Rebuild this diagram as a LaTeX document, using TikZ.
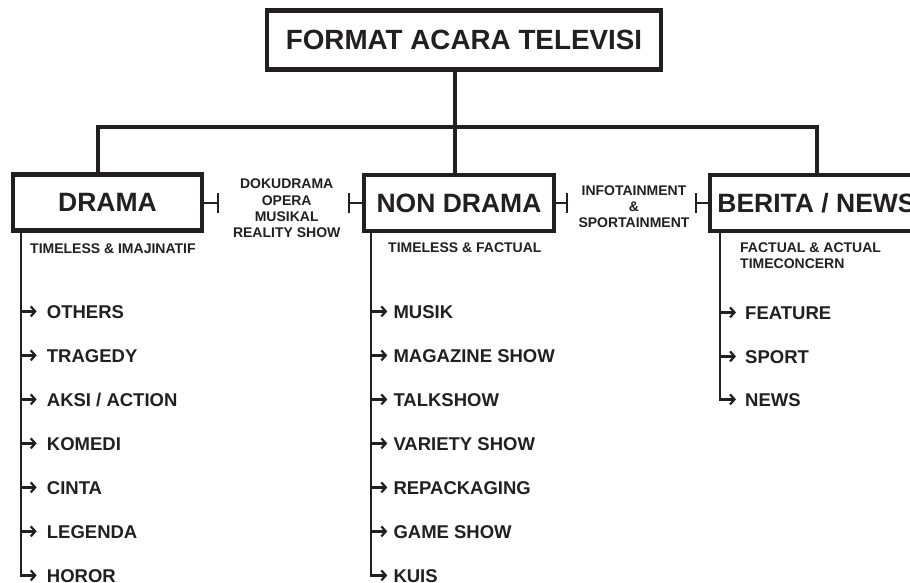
\documentclass[tikz,border=0pt]{standalone}
\usepackage{fontspec}
\setmainfont{Liberation Sans}
\usetikzlibrary{arrows.meta}
\definecolor{ink}{HTML}{231F20}
\begin{document}
\begin{tikzpicture}[x=1pt,y=-1pt,
 box/.style={draw=ink, text=ink, line width=4.3pt, inner sep=0pt, font=\fontsize{26.5}{30}\selectfont\bfseries},
 conn/.style={draw=ink, line width=4pt},
 tickline/.style={draw=ink, line width=2pt, -{Bar[width=20pt]}},
 listline/.style={draw=ink, line width=2.2pt},
 arr/.style={draw=ink, line width=2.2pt, -{Straight Barb[length=4.5pt, width=10pt]}},
 item/.style={anchor=base west, text=ink, inner ysep=0pt, text height=13.2pt, text depth=0pt, font=\fontsize{18.5}{20}\selectfont\bfseries},
 small/.style={inner sep=0pt, text=ink, font=\fontsize{14}{16}\selectfont\bfseries},
]
\useasboundingbox (0,0) rectangle (910,583);
\clip (0,0) rectangle (910,583);

% main boxes
\node[box, minimum width=393.5pt, minimum height=59pt, font=\fontsize{27.8}{30}\selectfont\bfseries] (title) at (464,40) {FORMAT ACARA TELEVISI};
\node[box, minimum width=189pt, minimum height=56pt] (drama) at (107.5,202.6) {DRAMA};
\node[box, minimum width=190pt, minimum height=55.5pt] (nondrama) at (459,203) {NON DRAMA};
\node[box, minimum width=213pt, minimum height=55.5pt] (berita) at (816.5,203) {BERITA / NEWS};

% tree connectors
\coordinate (hub) at (454.5,126.7);
\coordinate (dj) at (98.3,126.7);
\draw[conn] (title.south -| hub) -- (nondrama.north -| hub);
\draw[conn] (drama.north -| dj) -- (dj) -- (berita.north |- dj) -- (berita.north);

% ticks
\coordinate (t1) at (219,203);
\coordinate (t2) at (348,203);
\coordinate (t3) at (568,203);
\coordinate (t4) at (695,203);
\draw[tickline] (drama.east |- t1) -- (t1);
\draw[tickline] (nondrama.west |- t2) -- (t2);
\draw[tickline] (nondrama.east |- t3) -- (t3);
\draw[tickline] (berita.west |- t4) -- (t4);

% in-between labels
\node[small, anchor=base] (m1) at (286.7,188) {DOKUDRAMA};
\node[small, anchor=base] (m2) at (286.7,205.5) {OPERA};
\node[small, anchor=base] (m3) at (286.7,221.5) {MUSIKAL};
\node[small, anchor=base] (m4) at (286.7,237.5) {REALITY SHOW};
\node[small, anchor=base] (n1) at (634,195) {INFOTAINMENT};
\node[small, anchor=base] (n2) at (634,211) {\&};
\node[small, anchor=base] (n3) at (634,227) {SPORTAINMENT};

% subtitles
\node[small, anchor=base west] (s1) at (30,253) {TIMELESS \& IMAJINATIF};
\node[small, anchor=base west] (s2) at (388,252.5) {TIMELESS \& FACTUAL};
\node[small, anchor=base west] (s3) at (740,252.5) {FACTUAL \& ACTUAL};
\node[small, anchor=base west] (s4) at (740,268) {TIMECONCERN};

% drama list
\begin{scope}[every node/.append style={inner xsep=10pt}]
\node[item] (d1) at (36.7,318) {OTHERS};
\node[item] (d2) at (36.7,362) {TRAGEDY};
\node[item] (d3) at (36.7,406) {AKSI / ACTION};
\node[item] (d4) at (36.7,450) {KOMEDI};
\node[item] (d5) at (36.7,494) {CINTA};
\node[item] (d6) at (36.7,538) {LEGENDA};
\node[item] (d7) at (36.7,582) {HOROR};
\end{scope}
\coordinate (dx) at (21.3,0);
\draw[arr] (drama.south -| dx) |- (d7.west);
\foreach \i in {1,...,6} \draw[arr] (dx |- d\i.west) -- (d\i.west);

% non drama list
\begin{scope}[every node/.append style={inner xsep=6pt}]
\node[item] (k1) at (387.3,318) {MUSIK};
\node[item] (k2) at (387.3,362) {MAGAZINE SHOW};
\node[item] (k3) at (387.3,406) {TALKSHOW};
\node[item] (k4) at (387.3,450) {VARIETY SHOW};
\node[item] (k5) at (387.3,494) {REPACKAGING};
\node[item] (k6) at (387.3,538) {GAME SHOW};
\node[item] (k7) at (387.3,582) {KUIS};
\end{scope}
\coordinate (kx) at (371.3,0);
\draw[arr] (nondrama.south -| kx) |- (k7.west);
\foreach \i in {1,...,6} \draw[arr] (kx |- k\i.west) -- (k\i.west);

% berita list
\begin{scope}[every node/.append style={inner xsep=9pt}]
\node[item] (b1) at (736,319) {FEATURE};
\node[item] (b2) at (736,363) {SPORT};
\node[item] (b3) at (736,406) {NEWS};
\end{scope}
\coordinate (bx) at (719.7,0);
\draw[arr] (berita.south -| bx) |- (b3.west);
\foreach \i in {1,2} \draw[arr] (bx |- b\i.west) -- (b\i.west);
\end{tikzpicture}
\end{document}
